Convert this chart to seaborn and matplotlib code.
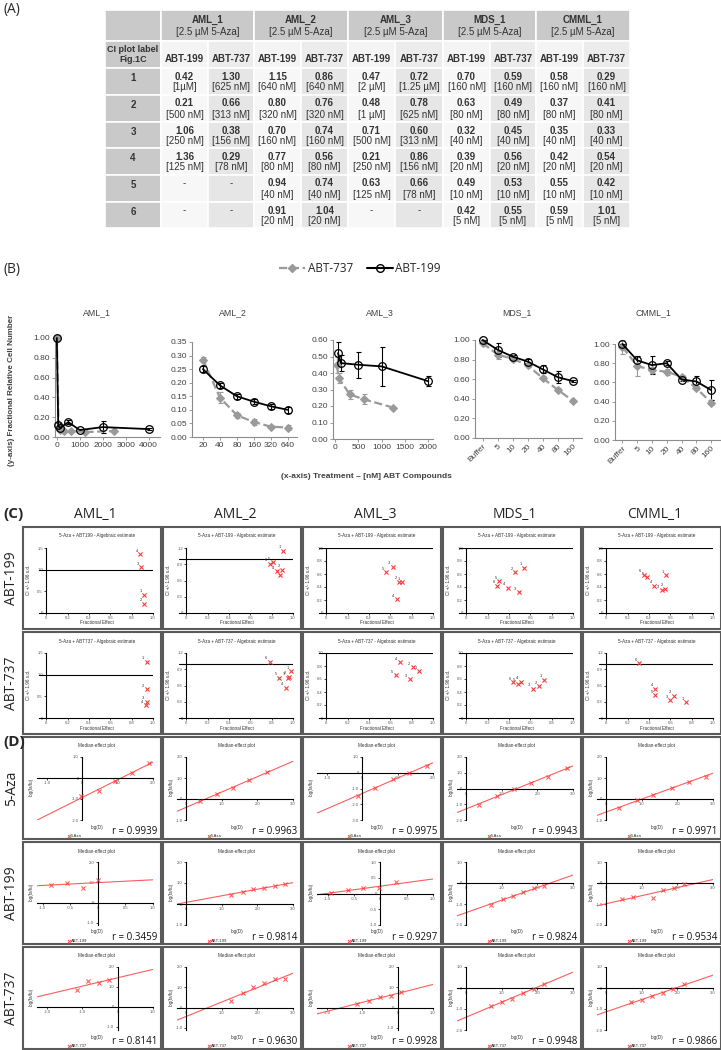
import numpy as np
import matplotlib
matplotlib.use('Agg')
import matplotlib.pyplot as plt
import matplotlib.font_manager as fm
from matplotlib.patches import Rectangle
from matplotlib.lines import Line2D
import seaborn as sns

# ---------------- data ----------------
samples = ['AML_1', 'AML_2', 'AML_3', 'MDS_1', 'CMML_1']
drugs = ['ABT-199', 'ABT-737']

# (A) CI values per sample, CI plot label 1..6
ci_199 = [[0.42, 0.21, 1.06, 1.36],
          [1.15, 0.80, 0.70, 0.77, 0.94, 0.91],
          [0.47, 0.48, 0.71, 0.21, 0.63],
          [0.70, 0.63, 0.32, 0.39, 0.49, 0.42],
          [0.58, 0.37, 0.35, 0.42, 0.55, 0.59]]
conc_199 = [['1µM', '500 nM', '250 nM', '125 nM'],
            ['640 nM', '320 nM', '160 nM', '80 nM', '40 nM', '20 nM'],
            ['2 µM', '1 µM', '500 nM', '250 nM', '125 nM'],
            ['160 nM', '80 nM', '40 nM', '20 nM', '10 nM', '5 nM'],
            ['160 nM', '80 nM', '40 nM', '20 nM', '10 nM', '5 nM']]
ci_737 = [[1.30, 0.66, 0.38, 0.29],
          [0.86, 0.76, 0.74, 0.56, 0.74, 1.04],
          [0.72, 0.78, 0.60, 0.86, 0.66],
          [0.59, 0.49, 0.45, 0.56, 0.53, 0.55],
          [0.29, 0.41, 0.33, 0.54, 0.42, 1.01]]
conc_737 = [['625 nM', '313 nM', '156 nM', '78 nM'],
            ['640 nM', '320 nM', '160 nM', '80 nM', '40 nM', '20 nM'],
            ['1.25 µM', '625 nM', '313 nM', '156 nM', '78 nM'],
            ['160 nM', '80 nM', '40 nM', '20 nM', '10 nM', '5 nM'],
            ['160 nM', '80 nM', '40 nM', '20 nM', '10 nM', '5 nM']]

# (B) fractional relative cell number
cats = ['Buffer', '5', '10', '20', '40', '80', '160']
b_x_199 = [[0, 62, 125, 500, 1000, 2000, 4000],
           [20, 40, 80, 160, 320, 640],
           [62, 125, 500, 1000, 2000], cats, cats]
b_y_199 = [[1.0, 0.12, 0.09, 0.15, 0.07, 0.10, 0.08],
           [0.25, 0.19, 0.15, 0.13, 0.113, 0.10],
           [0.52, 0.46, 0.45, 0.44, 0.35],
           [1.0, 0.90, 0.83, 0.78, 0.70, 0.62, 0.58],
           [1.0, 0.83, 0.78, 0.80, 0.63, 0.61, 0.52]]
b_e_199 = [[0, 0.02, 0.02, 0.02, 0.01, 0.06, 0.01],
           [0.01, 0.01, 0.01, 0.01, 0.01, 0.01],
           [0.07, 0.05, 0.08, 0.12, 0.03],
           [0, 0.07, 0.02, 0.03, 0.04, 0.06, 0.01],
           [0, 0.05, 0.09, 0.02, 0.02, 0.06, 0.10]]
b_x_737 = [[0, 78, 156, 313, 625, 1250, 2500],
           [20, 40, 80, 160, 320, 640],
           [39, 78, 313, 625, 1250], cats, cats]
b_y_737 = [[1.0, 0.10, 0.07, 0.06, 0.06, 0.05, 0.06],
           [0.285, 0.145, 0.08, 0.055, 0.038, 0.035],
           [0.45, 0.37, 0.27, 0.24, 0.19],
           [0.97, 0.85, 0.81, 0.74, 0.61, 0.49, 0.38],
           [0.97, 0.77, 0.73, 0.71, 0.66, 0.54, 0.39]]
b_e_737 = [[0, 0.02, 0.01, 0.01, 0.01, 0.01, 0.01],
           [0.01, 0.02, 0.01, 0.01, 0.005, 0.01],
           [0.05, 0.03, 0.03, 0.03, 0],
           [0.03, 0.04, 0.02, 0.02, 0.02, 0.02, 0.01],
           [0.07, 0.10, 0.03, 0.03, 0.02, 0.02, 0.03]]

# (C) fractional effect (CI values come from the table)
fa_199 = [[0.92, 0.92, 0.89, 0.88],
          [0.91, 0.90, 0.88, 0.85, 0.81, 0.78],
          [0.71, 0.68, 0.62, 0.66, 0.56],
          [0.54, 0.46, 0.49, 0.39, 0.31, 0.29],
          [0.56, 0.55, 0.52, 0.45, 0.38, 0.35]]
fa_737 = [[0.94, 0.94, 0.94, 0.93],
          [0.98, 0.96, 0.95, 0.93, 0.87, 0.78],
          [0.87, 0.81, 0.78, 0.69, 0.65],
          [0.73, 0.68, 0.62, 0.51, 0.48, 0.44],
          [0.75, 0.63, 0.60, 0.46, 0.46, 0.31]]

# (D) median-effect plots: log(D) vs log(fa/fu)
d_x_aza = [[-0.03, 0.48, 0.93, 1.42, 1.90], [0.39, 0.86, 1.33, 1.78, 2.28],
           [-0.13, 0.35, 0.86, 1.32, 1.82], [0.37, 0.87, 1.35, 1.83, 2.31, 2.82],
           [0.37, 0.87, 1.33, 1.84, 2.33, 2.80]]
d_y_aza = [[-0.86, -0.64, -0.14, 0.23, 0.73], [-0.10, 0.24, 0.52, 0.90, 1.29],
           [-1.50, -0.95, -0.40, 0.00, 0.40], [-1.03, -0.45, 0.00, 0.35, 0.72, 1.30],
           [-0.44, -0.05, 0.20, 0.54, 0.83, 1.07]]
d_x_199 = [[-0.85, -0.56, -0.27, 0.00], [1.27, 1.59, 1.87, 2.19, 2.50, 2.78],
           [-0.94, -0.62, -0.32, -0.02, 0.30], [0.70, 1.04, 1.32, 1.60, 1.91, 2.19],
           [0.45, 0.76, 1.33, 1.61, 1.92, 2.20]]
d_y_199 = [[0.88, 0.99, 0.74, 1.10], [0.45, 0.57, 0.70, 0.78, 0.85, 0.93],
           [0.03, 0.10, 0.16, 0.16, 0.35], [-1.05, -0.75, -0.60, -0.45, -0.25, -0.15],
           [-0.75, -0.65, -0.70, -0.35, -0.25, -0.05]]
d_x_737 = [[-1.16, -0.85, -0.54, -0.23], [1.27, 1.59, 1.89, 2.20, 2.50, 2.78],
           [-1.14, -0.80, -0.50, -0.20, 0.10], [0.70, 1.01, 1.30, 1.60, 1.91, 2.19],
           [0.71, 1.02, 1.30, 1.61, 1.89, 2.20]]
d_y_737 = [[0.86, 1.30, 1.19, 1.33], [0.35, 0.72, 1.00, 1.20, 1.40, 1.40],
           [0.20, 0.33, 0.52, 0.57, 0.76], [-0.87, -0.68, -0.50, -0.22, -0.03, 0.18],
           [-0.67, -0.58, -0.38, -0.24, -0.06, 0.20]]
r_aza = ['0.9939', '0.9963', '0.9975', '0.9943', '0.9971']
r_199 = ['0.3459', '0.9814', '0.9297', '0.9824', '0.9534']
r_737 = ['0.8141', '0.9630', '0.9928', '0.9948', '0.9866']

# ---------------- layout ----------------
W, H = 721, 1050
sns.set_theme(style='white')
names = {f.name for f in fm.fontManager.ttflist}
narrow = 'Liberation Sans Narrow' if 'Liberation Sans Narrow' in names else 'Liberation Sans'
plt.rcParams['font.family'] = ['Liberation Sans', 'DejaVu Sans']
big = ['Open Sans', 'DejaVu Sans']
red = '#ff3a3a'
txt = '#404040'

fig = plt.figure(figsize=(W / 100, H / 100), dpi=100)
canvas = fig.add_axes([0, 0, 1, 1])
canvas.set_xlim(0, W)
canvas.set_ylim(H, 0)
canvas.axis('off')


def px_ax(left, top, right, bottom):
    return fig.add_axes([left / W, 1 - bottom / H, (right - left) / W, (bottom - top) / H])


def fmt(v):
    return '0' if abs(v) < 1e-9 else '%.1f' % v


# ---- (A) table ----
col_edges = [105, 161, 208, 254, 301, 348, 395, 443, 490, 536, 583, 630]
row_edges = [10, 41, 68, 95, 122, 148, 175, 202, 228]
gray = '#c9c9c9'


def cell(x0, x1, y0, y1, color):
    canvas.add_patch(Rectangle((x0, y0), x1 - x0, y1 - y0, fc=color, ec='white', lw=1.2))


canvas.text(3, 10, '(A)', fontsize=10, va='center', family=big)
cell(col_edges[0], col_edges[1], row_edges[0], row_edges[1], gray)
for i, s in enumerate(samples):
    x0, x1 = col_edges[1 + 2 * i], col_edges[3 + 2 * i]
    cell(x0, x1, row_edges[0], row_edges[1], gray)
    canvas.text((x0 + x1) / 2, row_edges[0] + 10, s, ha='center', va='center', fontsize=7,
                fontweight='bold', family=narrow, color='#333333')
    canvas.text((x0 + x1) / 2, row_edges[0] + 22, '[2.5 µM 5-Aza]', ha='center', va='center',
                fontsize=7, family=narrow, color='#333333')
cell(col_edges[0], col_edges[1], row_edges[1], row_edges[2], gray)
canvas.text((col_edges[0] + col_edges[1]) / 2, (row_edges[1] + row_edges[2]) / 2,
            'CI plot label\nFig.1C', ha='center', va='center', fontsize=6.5, fontweight='bold',
            family=narrow, color='#333333', linespacing=1.1)
for j in range(10):
    x0, x1 = col_edges[1 + j], col_edges[2 + j]
    cell(x0, x1, row_edges[1], row_edges[2], '#f4f4f4' if j % 2 == 0 else '#ececec')
    canvas.text((x0 + x1) / 2, row_edges[1] + 18, drugs[j % 2], ha='center', va='center',
                fontsize=7, fontweight='bold', family=narrow, color='#333333')
for r in range(6):
    y0, y1 = row_edges[2 + r], row_edges[3 + r]
    cell(col_edges[0], col_edges[1], y0, y1, gray)
    canvas.text((col_edges[0] + col_edges[1]) / 2, y0 + 10, str(r + 1), ha='center', va='center',
                fontsize=7, fontweight='bold', family=narrow, color='#333333')
    for i in range(5):
        for d, (ci, conc) in enumerate([(ci_199, conc_199), (ci_737, conc_737)]):
            j = 2 * i + d
            x0, x1 = col_edges[1 + j], col_edges[2 + j]
            cell(x0, x1, y0, y1, '#f7f7f7' if d == 0 else '#e6e6e6')
            xc = (x0 + x1) / 2
            if r < len(ci[i]):
                canvas.text(xc, y0 + 8.5, '%.2f' % ci[i][r], ha='center', va='center', fontsize=7,
                            fontweight='bold', family=narrow, color='#333333')
                canvas.text(xc, y0 + 19.5, '[%s]' % conc[i][r], ha='center', va='center',
                            fontsize=7, family=narrow, color='#333333')
            else:
                canvas.text(xc, y0 + 8.5, '-', ha='center', va='center', fontsize=7,
                            family=narrow, color='#333333')

# ---- (B) line plots ----
canvas.text(3, 269, '(B)', fontsize=10, va='center', family=big)
b_axes_px = [(55, 338, 160, 437), (192, 342, 297, 437), (333, 340, 433, 439),
             (475, 340, 582, 438), (615, 344, 720, 440)]
b_title_x = [97, 233, 380, 517, 653]
b_ymax = [1.0, 0.35, 0.6, 1.0, 1.0]
b_ystep = [0.2, 0.05, 0.1, 0.2, 0.2]
gray_line = '#9a9a9a'

for i in range(5):
    ax = px_ax(*b_axes_px[i])
    for xs, ys, es, col, st in [(b_x_737[i], b_y_737[i], b_e_737[i], gray_line, '737'),
                                (b_x_199[i], b_y_199[i], b_e_199[i], 'black', '199')]:
        xv = np.arange(len(xs)) if isinstance(xs[0], str) else np.array(xs, float)
        if st == '737':
            sns.lineplot(x=xv, y=ys, ax=ax, color=col, linestyle='--', lw=1.6, marker='D',
                         markersize=3.8, markeredgecolor=col, clip_on=False, zorder=3)
        else:
            sns.lineplot(x=xv, y=ys, ax=ax, color=col, lw=1.3, marker='o', markersize=5.5,
                         markerfacecolor='none', markeredgecolor='black', markeredgewidth=0.9,
                         clip_on=False, zorder=4)
        ax.errorbar(xv, ys, yerr=es, fmt='none', ecolor=col, elinewidth=0.8, capsize=1.8,
                    capthick=0.8, zorder=2, clip_on=False)
    if i == 0:
        ax.set_xlim(-80, 4500)
        ax.set_xticks([0, 1000, 2000, 3000, 4000])
        ax.set_xticklabels(['0', '1000', '2000', '3000', '4000'])
    elif i == 1:
        ax.set_xscale('log', base=2)
        ax.set_xlim(12.8, 925)
        ax.set_xticks(b_x_199[1])
        ax.set_xticklabels([str(v) for v in b_x_199[1]])
        ax.minorticks_off()
    elif i == 2:
        ax.set_xlim(-45, 2100)
        ax.set_xticks([0, 500, 1000, 1500, 2000])
        ax.set_xticklabels(['0', '500', '1000', '1500', '2000'])
    else:
        ax.set_xlim(-0.5, 6.6)
        ax.set_xticks(np.arange(len(cats)))
        ax.set_xticklabels(cats, rotation=45, ha='right', rotation_mode='anchor')
    ax.set_ylim(0, b_ymax[i])
    yt = np.arange(0, b_ymax[i] + 1e-6, b_ystep[i])
    ax.set_yticks(yt)
    ax.set_yticklabels(['%.2f' % v for v in yt])
    sns.despine(ax=ax)
    for sp in ['left', 'bottom']:
        ax.spines[sp].set_color('#8c8c8c')
        ax.spines[sp].set_linewidth(0.8)
    ax.tick_params(bottom=True, left=True, length=2, width=0.6, color='#8c8c8c',
                   labelsize=6, labelcolor=txt, pad=1.5)
    ax.set_xlabel('')
    ax.set_ylabel('')
    ax.patch.set_alpha(0)
    fig.text(b_title_x[i] / W, 1 - 313 / H, samples[i], ha='center', va='center',
             fontsize=6.3, color=txt)

fig.text(12 / W, 1 - 390 / H, '(y-axis) Fractional Relative Cell Number', rotation=90,
         ha='center', va='center', fontsize=5.8, fontweight='bold', color=txt)
fig.text(366 / W, 1 - 476 / H, '(x-axis) Treatment \u2013 [nM] ABT Compounds', ha='center',
         va='center', fontsize=6, fontweight='bold', color=txt)
handles = [Line2D([], [], color=gray_line, ls='--', lw=1.6, marker='D', markersize=4,
                  markeredgecolor=gray_line),
           Line2D([], [], color='black', lw=1.5, marker='o', markersize=5.5,
                  markerfacecolor='none', markeredgecolor='black')]
fig.legend(handles, ['ABT-737', 'ABT-199'], loc='center', bbox_to_anchor=(360 / W, 1 - 269 / H),
           ncol=2, frameon=False, handlelength=2.2, handletextpad=0.2,
           columnspacing=1.2, prop={'family': big, 'size': 8.5})

# ---- boxes for (C) and (D) ----
box_left = [23, 163, 303, 443, 583]
box_w = 138
box_h = 102
c_row_top = [527, 632]
d_row_top = [737, 842, 947]
for rt in c_row_top + d_row_top:
    for bl in box_left:
        canvas.add_patch(Rectangle((bl, rt), box_w, box_h, fill=False, ec='#5a5a5a', lw=1.5))

canvas.text(3, 514, '(C)', fontsize=11, fontweight='bold', va='center', family=big)
canvas.text(3, 742, '(D)', fontsize=11, fontweight='bold', va='center', family=big)
for i, s in enumerate(samples):
    canvas.text(box_left[i] + box_w / 2 + 3, 514, s, ha='center', va='center', fontsize=10,
                family=big, color='#222222')
for rt, lab in zip(c_row_top, drugs):
    canvas.text(12, rt + box_h / 2, lab, rotation=90, ha='center', va='center', fontsize=10,
                family=big, color='#222222')
for rt, lab in zip(d_row_top, ['5-Aza'] + drugs):
    canvas.text(12, rt + box_h / 2, lab, rotation=90, ha='center', va='center', fontsize=10,
                family=big, color='#222222')


def small_axes_style(ax, xt, yt):
    ax.set_xticks(xt)
    ax.set_xticklabels([fmt(v) for v in xt])
    ax.set_yticks(yt)
    ax.set_yticklabels([fmt(v) for v in yt])
    ax.spines['top'].set_visible(False)
    ax.spines['right'].set_visible(False)
    for sp in ['left', 'bottom']:
        ax.spines[sp].set_color('black')
        ax.spines[sp].set_linewidth(0.8)
    ax.tick_params(bottom=True, left=True, length=1.5, width=0.5, color='black',
                   labelsize=3, labelcolor='#555555', pad=1)
    ax.set_xlabel('')
    ax.set_ylabel('')
    ax.patch.set_alpha(0)


# ---- (C) CI plots ----
c_ymax = [[1.5, 1.2, 1.0, 1.0, 1.0], [1.5, 1.2, 1.0, 1.0, 1.2]]
for r, (fa, ci, name) in enumerate([(fa_199, ci_199, 'ABT-199'), (fa_737, ci_737, 'ABT-737')]):
    rt = c_row_top[r]
    for i in range(5):
        bl = box_left[i]
        ax = px_ax(bl + 16, rt + 21, bl + 130, rt + 86)
        sns.scatterplot(x=fa[i], y=ci[i], ax=ax, marker='x', color=red, s=9, linewidth=0.8,
                        legend=False, clip_on=False, zorder=4)
        for k, (f, c) in enumerate(zip(fa[i], ci[i])):
            ax.annotate(str(k + 1), (f, c), xytext=(-2.5, 2.5), textcoords='offset points',
                        fontsize=3, ha='center', va='center', color='#333333')
        ax.axhline(1.0, color='black', lw=0.8)
        ymax = c_ymax[r][i]
        ax.set_xlim(-0.07, 1.0)
        ax.set_ylim(0, ymax)
        ax.spines['left'].set_position(('data', 0))
        step = 0.5 if ymax == 1.5 else (0.3 if ymax == 1.2 else 0.2)
        small_axes_style(ax, np.arange(0, 1.01, 0.2), np.arange(0, ymax + 1e-6, step))
        drug_txt = name.replace('-', '') if i == 0 else name
        canvas.text(bl + 74, rt + 9, '5-Aza + %s - Algebraic estimate' % drug_txt, ha='center',
                    va='center', fontsize=3.3, color='#333333')
        canvas.text(bl + 74, rt + 96, 'Fractional Effect', ha='center', va='center',
                    fontsize=3.3, color='#333333')
        canvas.text(bl + 6, rt + 53, 'CI +/- 1.96 s.d.', rotation=90, ha='center', va='center',
                    fontsize=3.3, color='#333333')

# ---- (D) median-effect plots ----
d_sets = [(d_x_aza, d_y_aza, r_aza, '5-Aza'), (d_x_199, d_y_199, r_199, 'ABT-199'),
          (d_x_737, d_y_737, r_737, 'ABT-737')]
d_xlim = [[(-1.28, 2.0), (-0.25, 3.0), (-1.28, 2.0), (-0.25, 3.0), (-0.25, 3.0)],
          [(-1.1, 1.0), (-0.25, 3.0), (-1.2, 1.0), (-0.25, 3.0), (-0.25, 3.0)],
          [(-2.28, 1.0), (-0.25, 3.0), (-2.28, 1.0), (-0.25, 3.0), (-0.25, 3.0)]]
d_ylim = [[(-2, 1), (-1, 2), (-3, 1), (-2, 2), (-1, 2)],
          [(-1.1, 2), (-1, 2), (-1, 1), (-2, 1), (-2, 1)],
          [(-1.15, 2), (-1.1, 2), (-1.1, 2), (-2, 1), (-2, 1)]]
for r, (dx, dy, rv, name) in enumerate(d_sets):
    rt = d_row_top[r]
    for i in range(5):
        bl = box_left[i]
        ax = px_ax(bl + 14, rt + 20, bl + 130, rt + 83)
        xl, yl = d_xlim[r][i], d_ylim[r][i]
        ax.set_xlim(xl)
        ax.set_ylim(yl)
        sns.regplot(x=np.array(dx[i]), y=np.array(dy[i]), ax=ax, ci=None, truncate=False,
                    marker='x', color=red, label=name,
                    scatter_kws={'s': 9, 'linewidths': 0.8, 'zorder': 4},
                    line_kws={'lw': 0.8, 'color': '#ff5c5c'})
        ax.set_xlim(xl)
        ax.set_ylim(yl)
        ax.spines['left'].set_position(('data', 0))
        ax.spines['bottom'].set_position(('data', 0))
        xstep = 0.5 if xl[1] - xl[0] < 2.5 else 1.0
        ystep = 0.5 if yl[1] - yl[0] <= 2 else 1.0
        xt = np.arange(np.ceil(xl[0] / xstep) * xstep, xl[1] + 1e-6, xstep)
        yt = np.arange(np.ceil(yl[0] / ystep) * ystep, yl[1] + 1e-6, ystep)
        small_axes_style(ax, xt, yt)
        ax.legend(loc='center left', bbox_to_anchor=((bl + 45) / W, 1 - (rt + 99) / H),
                  bbox_transform=fig.transFigure, fontsize=3, frameon=False, handlelength=0.5,
                  handletextpad=0.1, borderpad=0, borderaxespad=0, markerscale=0.7)
        canvas.text(bl + 74, rt + 9, 'Median-effect plot', ha='center', va='center',
                    fontsize=3.3, color='#333333')
        canvas.text(bl + 74, rt + 90, 'log(D)', ha='center', va='center', fontsize=3.3,
                    color='#333333')
        canvas.text(bl + 8, rt + 50, 'log(fa/fu)', rotation=90, ha='center', va='center',
                    fontsize=3.3, color='#333333')
        canvas.text(bl + box_w - 4, rt + 95, 'r = %s' % rv[i], ha='right', va='center',
                    fontsize=7, family=big, color='#111111')

fig.savefig('out.png', dpi=100)
